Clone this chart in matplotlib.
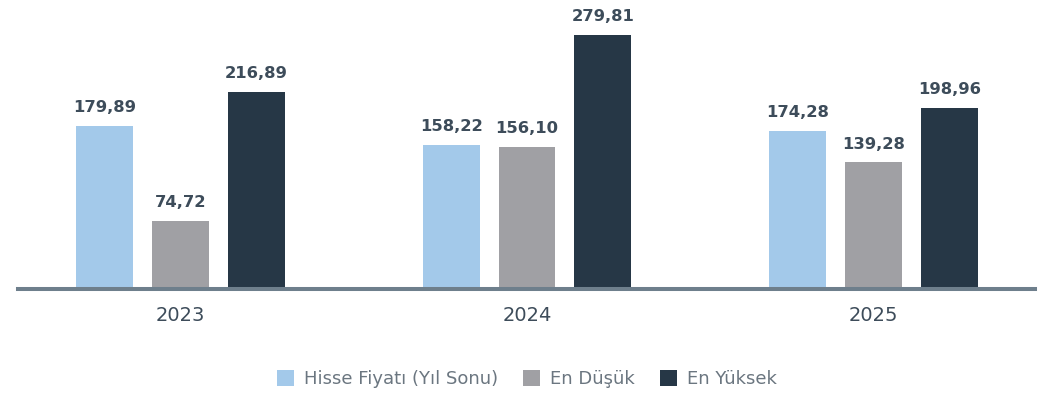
import numpy as np
import matplotlib.pyplot as plt
from matplotlib.patches import Patch

years = ['2023', '2024', '2025']
series_names = ['Hisse Fiyatı (Yıl Sonu)', 'En Düşük', 'En Yüksek']
hisse_fiyati = [179.89, 158.22, 174.28]
en_dusuk = [74.72, 156.10, 139.28]
en_yuksek = [216.89, 279.81, 198.96]

colors = ['#a3c9ea', '#a0a0a4', '#263746']
label_color = '#3d4c5a'

fig = plt.figure(figsize=(10.59, 3.93), dpi=100)
ax = fig.add_axes([18 / 1059, 104 / 393, (1035 - 18) / 1059, 289 / 393])

x = np.arange(len(years))
width = 0.1645
step = 0.219
for i, (vals, col) in enumerate(zip([hisse_fiyati, en_dusuk, en_yuksek], colors)):
    pos = x + (i - 1) * step
    ax.bar(pos, vals, width=width, color=col, zorder=2)
    for px, v in zip(pos, vals):
        ax.text(px, v + 12, f'{v:.2f}'.replace('.', ','), ha='center', va='bottom',
                fontsize=11.8, fontweight='bold', color=label_color)

ax.set_xlim((18 - 180.5) / 346.5, (1035 - 180.5) / 346.5)
ax.set_ylim(0, 318)
for s in ['top', 'right', 'left']:
    ax.spines[s].set_visible(False)
ax.spines['bottom'].set_color('#6e7f8c')
ax.spines['bottom'].set_linewidth(2.9)
ax.spines['bottom'].set_zorder(3)
ax.set_yticks([])
ax.set_xticks(x)
ax.set_xticklabels(years, fontsize=14, color=label_color)
ax.tick_params(axis='x', length=0, pad=12)

handles = [Patch(facecolor=c, edgecolor='none') for c in colors]
fig.legend(handles, series_names, loc='center', bbox_to_anchor=(527 / 1059, 1 - 379 / 393),
           ncol=3, frameon=False, fontsize=13, labelcolor='#6b7680',
           handlelength=0.95, handleheight=0.95, handletextpad=0.55, columnspacing=1.4)

fig.savefig('out.png', dpi=100)
